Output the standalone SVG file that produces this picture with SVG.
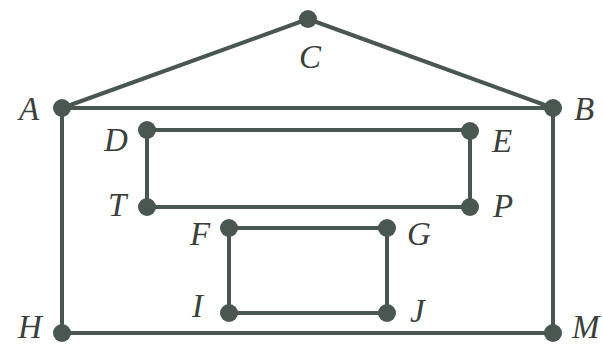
<svg xmlns="http://www.w3.org/2000/svg" width="603" height="347" viewBox="0 0 603 347">
<style>
.e{stroke:#4a5650;stroke-width:4;fill:none;stroke-linecap:round}
.n{fill:#4a5650}
.t{font-family:"Liberation Serif",serif;font-style:italic;font-size:33px;fill:#3a3f3c}
</style>
<rect width="603" height="347" fill="#ffffff"/>
<g id="connectors">
<path class="e" d="M62 108 L308 19 L553 108 Z"/>
<path class="e" d="M62 108 L62 333 L553 333 L553 108"/>
<path class="e" d="M147 130 L470 130 L470 207 L147 207 Z"/>
<path class="e" d="M229 228 L387 228 L387 313 L229 313 Z"/>
</g>
<g id="C"><circle class="n" cx="308" cy="19" r="9"/><text class="t" x="299" y="68">C</text></g>
<g id="A"><circle class="n" cx="62" cy="108" r="9"/><text class="t" x="19" y="120">A</text></g>
<g id="B"><circle class="n" cx="553" cy="108" r="9"/><text class="t" x="574" y="120">B</text></g>
<g id="D"><circle class="n" cx="147" cy="130" r="9"/><text class="t" x="104" y="151">D</text></g>
<g id="E"><circle class="n" cx="470" cy="131" r="9"/><text class="t" x="492" y="152">E</text></g>
<g id="T"><circle class="n" cx="147" cy="207" r="9"/><text class="t" x="108" y="216">T</text></g>
<g id="P"><circle class="n" cx="470" cy="207" r="9"/><text class="t" x="493" y="217">P</text></g>
<g id="F"><circle class="n" cx="229" cy="228" r="9"/><text class="t" x="190" y="245">F</text></g>
<g id="G"><circle class="n" cx="387" cy="228" r="9"/><text class="t" x="407" y="245">G</text></g>
<g id="I"><circle class="n" cx="229" cy="313" r="9"/><text class="t" x="192" y="317">I</text></g>
<g id="J"><circle class="n" cx="387" cy="313" r="9"/><text class="t" x="410" y="322">J</text></g>
<g id="H"><circle class="n" cx="62" cy="333" r="9"/><text class="t" x="18" y="338">H</text></g>
<g id="M"><circle class="n" cx="553" cy="333" r="9"/><text class="t" x="572" y="338">M</text></g>
</svg>
